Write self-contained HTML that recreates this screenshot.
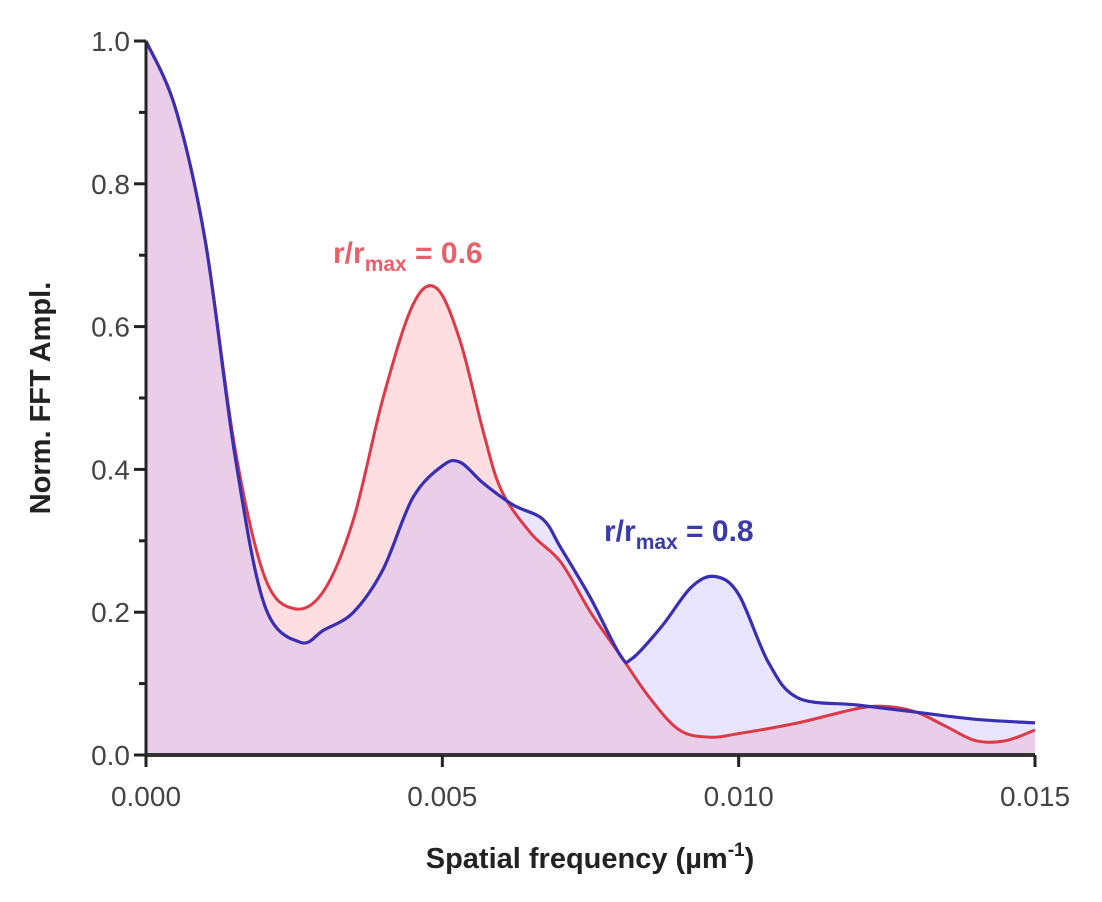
<!DOCTYPE html>
<html><head><meta charset="utf-8"><style>
body{margin:0;background:#fff;}
svg{display:block;font-family:"Liberation Sans",Arial,sans-serif;}
</style></head><body>
<svg id="chart" width="1102" height="902" viewBox="0 0 1102 902">
<g id="fills"></g><g id="lines"></g><g id="axes"></g>
<text x="333" y="263" font-size="30" font-weight="bold" fill="#e8606a">r/r<tspan font-size="21" dy="8">max</tspan><tspan dy="-8"> = 0.6</tspan></text>
<text x="604" y="541" font-size="30" font-weight="bold" fill="#3a3aa8">r/r<tspan font-size="21" dy="8">max</tspan><tspan dy="-8"> = 0.8</tspan></text>
<text transform="translate(50,398) rotate(-90)" text-anchor="middle" font-size="29" font-weight="bold" fill="#222">Norm. FFT Ampl.</text>
<text x="590" y="868" text-anchor="middle" font-size="29" font-weight="bold" fill="#222">Spatial frequency (µm<tspan font-size="19" dy="-12">-1</tspan><tspan dy="12">)</tspan></text>
</svg>
<script>
const redX=[0,0.5,1.0,1.5,2.0,2.5,3.0,3.5,4.0,4.5,4.9,5.3,5.7,6.0,6.5,7.0,7.5,8.0,8.5,9.0,9.5,10.0,11.0,12.0,12.5,13.0,13.5,14.0,14.5,15.0];
const redY=[1.0,0.905,0.72,0.43,0.25,0.205,0.23,0.33,0.50,0.63,0.654,0.58,0.45,0.37,0.31,0.27,0.20,0.14,0.08,0.035,0.025,0.03,0.045,0.065,0.068,0.06,0.04,0.02,0.02,0.035];
const blueX=[0,0.5,1.0,1.5,2.0,2.6,3.0,3.5,4.0,4.5,5.0,5.3,5.7,6.2,6.7,7.0,7.5,8.0,8.2,8.7,9.2,9.6,10.0,10.5,11.0,12.0,13.0,14.0,15.0];
const blueY=[1.0,0.905,0.72,0.42,0.21,0.158,0.175,0.20,0.26,0.36,0.405,0.41,0.38,0.35,0.33,0.29,0.22,0.14,0.135,0.18,0.235,0.25,0.225,0.13,0.08,0.07,0.06,0.05,0.045];
const yTicks=[0,0.2,0.4,0.6,0.8,1.0];
const yTickLabels=["0.0","0.2","0.4","0.6","0.8","1.0"];
const xTicks=[0,5,10,15];
const xTickLabels=["0.000","0.005","0.010","0.015"];
const X0=146,X1=1035,Y0=755,Y1=41;
const sx=v=>X0+v/15*(X1-X0);
const sy=v=>Y0-v*(Y0-Y1);
const NS="http://www.w3.org/2000/svg";
function mk(t,a,p){const e=document.createElementNS(NS,t);for(const k in a)e.setAttribute(k,a[k]);p.appendChild(e);return e;}
function path(xs,ys){const P=xs.map((x,i)=>[sx(x),sy(ys[i])]);let d="M"+P[0][0]+","+P[0][1];
for(let i=0;i<P.length-1;i++){const p0=P[i-1]||P[i],p1=P[i],p2=P[i+1],p3=P[i+2]||p2;
d+=" C"+(p1[0]+(p2[0]-p0[0])/6)+","+(p1[1]+(p2[1]-p0[1])/6)+" "+(p2[0]-(p3[0]-p1[0])/6)+","+(p2[1]-(p3[1]-p1[1])/6)+" "+p2[0]+","+p2[1];}
return d;}
const fills=document.getElementById('fills'),lines=document.getElementById('lines'),axes=document.getElementById('axes');
const rd=path(redX,redY),bd=path(blueX,blueY);
const close=" L"+sx(15)+","+Y0+" L"+X0+","+Y0+" Z";
const rf=mk('path',{d:rd+close,fill:"rgba(255,160,170,0.35)"},fills);


const bf=mk('path',{d:bd+close,fill:"rgba(180,160,255,0.28)"},fills);


const rl=mk('path',{d:rd,fill:"none",stroke:"#dd3a48",'stroke-width':3},lines);


const bl=mk('path',{d:bd,fill:"none",stroke:"#3a2fb0",'stroke-width':3.2},lines);


mk('line',{x1:X0,y1:Y0,x2:X0,y2:Y1,stroke:"#222",'stroke-width':3},axes);
mk('line',{x1:X0,y1:Y0,x2:X1,y2:Y0,stroke:"#333",'stroke-width':4},axes);
for(let v=0;v<=1.001;v+=0.1){mk('line',{x1:X0-(Math.round(v*10)%2?7:12),y1:sy(v),x2:X0,y2:sy(v),stroke:"#222",'stroke-width':3},axes);}
yTicks.forEach((v,i)=>{const t=mk('text',{x:X0-16,y:sy(v)+10,'text-anchor':"end",'font-size':28,fill:"#444"},axes);t.textContent=yTickLabels[i];

});
xTicks.forEach((v,i)=>{mk('line',{x1:sx(v),y1:Y0,x2:sx(v),y2:Y0+12,stroke:"#222",'stroke-width':3},axes);
const t=mk('text',{x:sx(v),y:Y0+51,'text-anchor':"middle",'font-size':28,fill:"#444"},axes);t.textContent=xTickLabels[i];

});
</script>
</body></html>
